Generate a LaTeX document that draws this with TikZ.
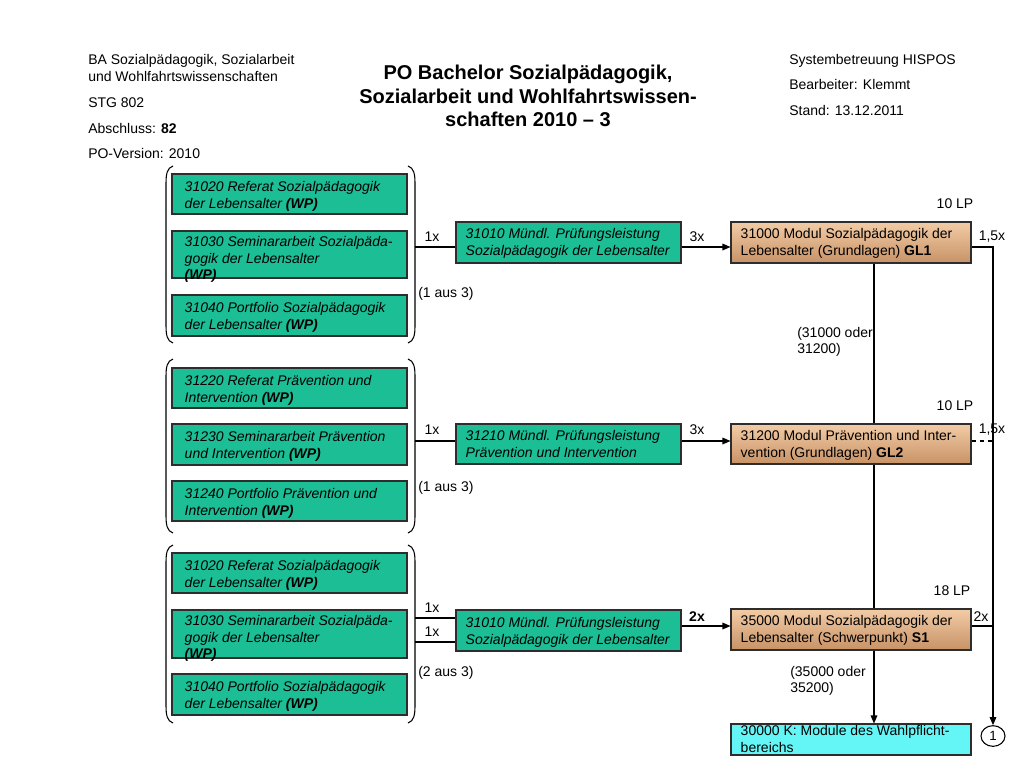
\documentclass[tikz,border=0pt]{standalone}
\usepackage{fontspec}
\setmainfont{Liberation Sans}
\usetikzlibrary{arrows.meta,fit,shapes.geometric}
\definecolor{grn}{RGB}{28,190,150}
\definecolor{brtop}{RGB}{242,204,166}
\definecolor{brbot}{RGB}{200,146,102}
\definecolor{cyn}{RGB}{100,246,246}
\definecolor{bord}{RGB}{45,45,45}
\begin{document}
\begin{tikzpicture}[x=0.75pt,y=-0.75pt,
  sm/.style={font=\fontsize{10.5}{12.4}\selectfont, inner sep=0pt},
  lbl/.style={sm},
  boxtxt/.style={font=\fontsize{10.5}{12.4}\selectfont, inner sep=0pt, anchor=north west, align=left},
  itxt/.style={boxtxt, font=\fontsize{10.5}{12.4}\selectfont\itshape},
  gbox/.style={draw=bord, line width=0.8pt, fill=grn, inner sep=0pt},
  bbox/.style={draw=bord, line width=0.8pt, top color=brtop, bottom color=brbot, inner sep=0pt},
  cbox/.style={draw=bord, line width=0.8pt, fill=cyn, inner sep=0pt},
  conn/.style={line width=0.8pt},
  arr/.style={conn, -{Triangle[length=6pt,width=5pt]}},
]
\useasboundingbox (0,0) rectangle (1024,768);

% ---------- header ----------
\node[lbl, anchor=base west] (h1) at (88,64) {BA Sozialpädagogik, Sozialarbeit};
\node[lbl, anchor=base west] (h2) at (88,81) {und Wohlfahrtswissenschaften};
\node[lbl, anchor=base west] (h3) at (88,107) {STG 802};
\node[lbl, anchor=base west] (h4) at (88,133) {Abschluss: \textbf{82}};
\node[lbl, anchor=base west] (h5) at (88,158) {PO-Version: 2010};
\node[font=\fontsize{15}{17.5}\selectfont\bfseries, align=center, inner sep=0pt] (title) at (528,96)
  {PO Bachelor Sozialpädagogik,\\Sozialarbeit und Wohlfahrtswissen-\\schaften 2010 – 3};
\node[lbl, anchor=base west] (r1) at (789,64) {Systembetreuung HISPOS};
\node[lbl, anchor=base west] (r2) at (789,89) {Bearbeiter: Klemmt};
\node[lbl, anchor=base west] (r3) at (789,115) {Stand: 13.12.2011};

\coordinate (vx) at (874,0);
\coordinate (rx) at (993,0);

% ---------- group 1 ----------
\node[gbox, fit={(172,174) (407,214)}] (a11) {};
\node[gbox, fit={(172,231) (407,278)}] (a12) {};
\node[gbox, fit={(172,295) (407,336)}] (a13) {};
\node[itxt] (t11) at ([shift={(13,8)}]a11.north west) {31020 Referat Sozialpädagogik\\der Lebensalter \textbf{(WP)}};
\node[itxt] (t12) at ([shift={(13,6)}]a12.north west) {31030 Seminararbeit Sozialpäda-\\gogik der Lebensalter\\\textbf{(WP)}};
\node[itxt] (t13) at ([shift={(13,8)}]a13.north west) {31040 Portfolio Sozialpädagogik\\der Lebensalter \textbf{(WP)}};
\draw[conn] (173,166) .. controls (167,168) and (166,174) .. (166,184) -- (166,325) .. controls (166,335) and (167,341) .. (173,343);
\draw[conn] (408,166) .. controls (414,168) and (415,174) .. (415,184) -- (415,325) .. controls (415,335) and (414,341) .. (408,343);
\coordinate (br1) at (415,247);

\node[gbox, fit={(456,222) (681,263)}] (p1) {};
\node[itxt] (tp1) at ([shift={(10,7)}]p1.north west) {31010 Mündl. Prüfungsleistung\\Sozialpädagogik der Lebensalter};
\node[bbox, fit={(731,222) (971,263)}] (m1) {};
\node[boxtxt] (tm1) at ([shift={(10,7)}]m1.north west) {31000 Modul Sozialpädagogik der\\Lebensalter (Grundlagen) \textbf{GL1}};

\node[lbl] (l11) at (432,237) {1x};
\node[lbl, anchor=west] (l12) at (418,294) {(1 aus 3)};
\node[lbl] (l13) at (697,237) {3x};
\node[lbl] (l14) at (955,204) {10 LP};
\node[lbl] (l15) at (992,237) {1,5x};
\node[lbl, anchor=north west, align=left] (l16) at (797,327) {(31000 oder\\31200)};

% ---------- group 2 ----------
\node[gbox, fit={(172,368) (407,408)}] (a21) {};
\node[gbox, fit={(172,424) (407,465)}] (a22) {};
\node[gbox, fit={(172,481) (407,521)}] (a23) {};
\node[itxt] (t21) at ([shift={(13,8)}]a21.north west) {31220 Referat Prävention und\\Intervention \textbf{(WP)}};
\node[itxt] (t22) at ([shift={(13,8)}]a22.north west) {31230 Seminararbeit Prävention\\und Intervention \textbf{(WP)}};
\node[itxt] (t23) at ([shift={(13,8)}]a23.north west) {31240 Portfolio Prävention und\\Intervention \textbf{(WP)}};
\draw[conn] (173,359) .. controls (167,361) and (166,367) .. (166,377) -- (166,515) .. controls (166,525) and (167,531) .. (173,533);
\draw[conn] (408,359) .. controls (414,361) and (415,367) .. (415,377) -- (415,515) .. controls (415,525) and (414,531) .. (408,533);
\coordinate (br2) at (415,441);

\node[gbox, fit={(456,424) (681,464)}] (p2) {};
\node[itxt] (tp2) at ([shift={(10,7)}]p2.north west) {31210 Mündl. Prüfungsleistung\\Prävention und Intervention};
\node[bbox, fit={(731,424) (971,464)}] (m2) {};
\node[boxtxt] (tm2) at ([shift={(10,7)}]m2.north west) {31200 Modul Prävention und Inter-\\vention (Grundlagen) \textbf{GL2}};

\node[lbl] (l21) at (432,430) {1x};
\node[lbl, anchor=west] (l22) at (418,488) {(1 aus 3)};
\node[lbl] (l23) at (697,430) {3x};
\node[lbl] (l24) at (955,406) {10 LP};
\node[lbl] (l25) at (992,430) {1,5x};

% ---------- group 3 ----------
\node[gbox, fit={(172,553) (407,593)}] (a31) {};
\node[gbox, fit={(172,610) (407,658)}] (a32) {};
\node[gbox, fit={(172,674) (407,715)}] (a33) {};
\node[itxt] (t31) at ([shift={(13,8)}]a31.north west) {31020 Referat Sozialpädagogik\\der Lebensalter \textbf{(WP)}};
\node[itxt] (t32) at ([shift={(13,6)}]a32.north west) {31030 Seminararbeit Sozialpäda-\\gogik der Lebensalter\\\textbf{(WP)}};
\node[itxt] (t33) at ([shift={(13,8)}]a33.north west) {31040 Portfolio Sozialpädagogik\\der Lebensalter \textbf{(WP)}};
\draw[conn] (173,545) .. controls (167,547) and (166,553) .. (166,563) -- (166,705) .. controls (166,715) and (167,721) .. (173,723);
\draw[conn] (408,545) .. controls (414,547) and (415,553) .. (415,563) -- (415,705) .. controls (415,715) and (414,721) .. (408,723);
\coordinate (br3a) at (415,618);
\coordinate (br3b) at (415,642);
\coordinate (y3) at (0,626);

\node[gbox, fit={(456,610) (681,651)}] (p3) {};
\node[itxt] (tp3) at ([shift={(10,8)}]p3.north west) {31010 Mündl. Prüfungsleistung\\Sozialpädagogik der Lebensalter};
\node[bbox, fit={(731,609) (971,650)}] (m3) {};
\node[boxtxt] (tm3) at ([shift={(10,7)}]m3.north west) {35000 Modul Sozialpädagogik der\\Lebensalter (Schwerpunkt) \textbf{S1}};

\node[lbl] (l31) at (432,608) {1x};
\node[lbl] (l32) at (432,632) {1x};
\node[lbl, anchor=west] (l33) at (418,673) {(2 aus 3)};
\node[lbl, font=\fontsize{10.5}{12.4}\selectfont\bfseries] (l34) at (697,617) {2x};
\node[lbl] (l35) at (952,591) {18 LP};
\node[lbl] (l36) at (981,617) {2x};
\node[lbl, anchor=north west, align=left] (l37) at (790,666) {(35000 oder\\35200)};

\node[cbox, fit={(731,724) (971,755)}] (k1) {};
\node[boxtxt] (tk1) at ([shift={(10,2)}]k1.north west) {30000 K: Module des Wahlpflicht-\\bereichs};

\node[draw=black, line width=0.8pt, ellipse, minimum width=18pt, minimum height=15.5pt, inner sep=0pt, font=\fontsize{10}{11}\selectfont] (c1) at (993,736) {1};

% ---------- connectors ----------
\draw[conn] (br1) -- (p1.west |- br1);
\draw[arr] (p1.east |- br1) -- (m1.west |- br1);
\draw[arr] (m1.east |- br1) -| (c1.north);

\draw[conn] (br2) -- (p2.west |- br2);
\draw[arr] (p2.east |- br2) -- (m2.west |- br2);
\draw[conn, dashed] (m2.east |- br2) -- (rx |- br2);

\draw[conn] (br3a) -- (p3.west |- br3a);
\draw[conn] (br3b) -- (p3.west |- br3b);
\draw[arr] (p3.east |- y3) -- (m3.west |- y3);
\draw[conn] (m3.east |- y3) -- (rx |- y3);

\draw[conn] (vx |- m1.south) -- (vx |- m2.north);
\draw[conn] (vx |- m2.south) -- (vx |- m3.north);
\draw[arr] (vx |- m3.south) -- (vx |- k1.north);
\end{tikzpicture}
\end{document}
